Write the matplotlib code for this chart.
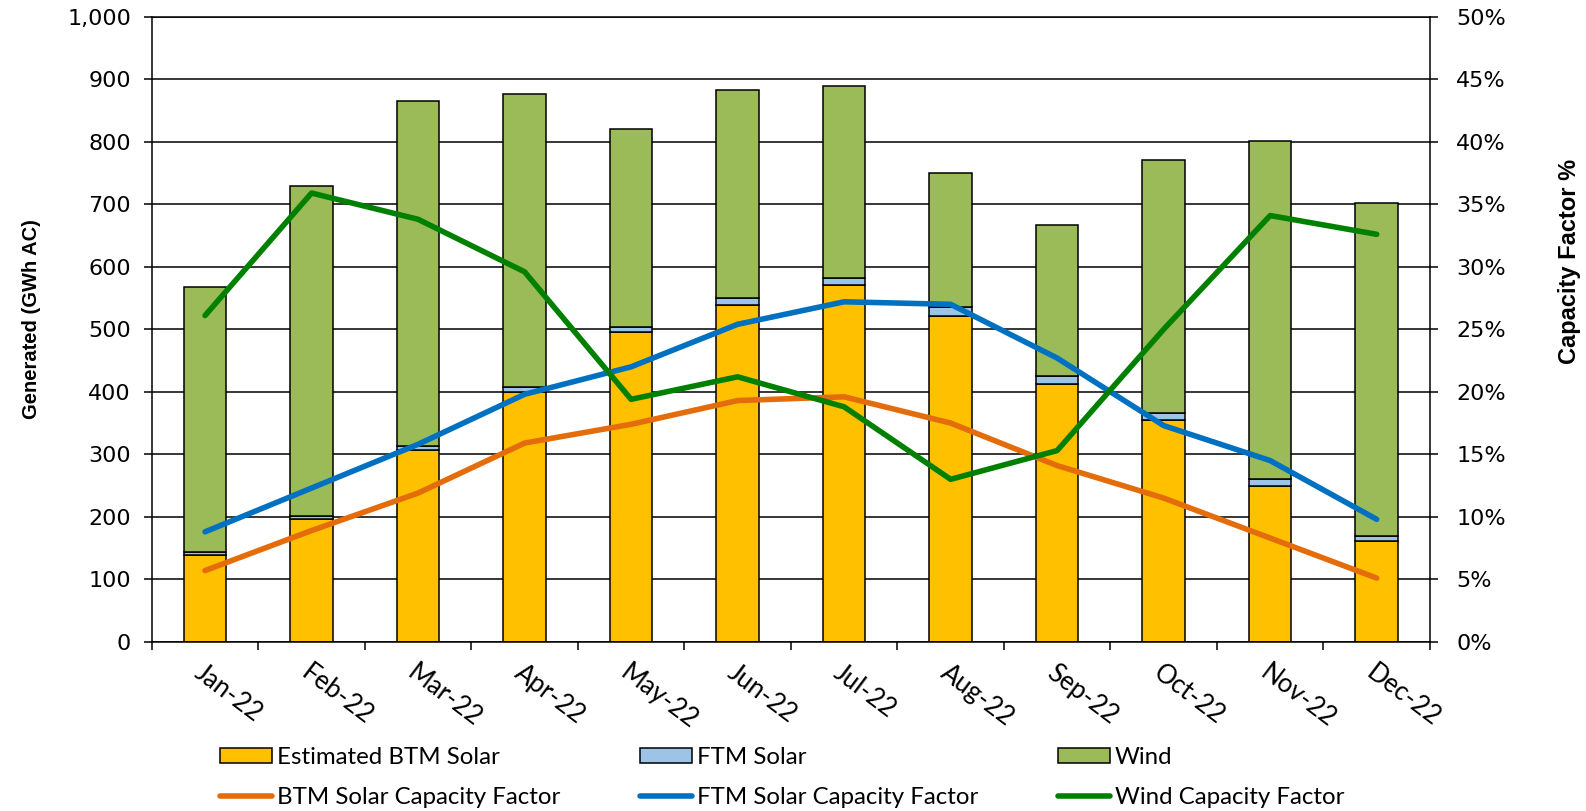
import matplotlib

matplotlib.use("Agg")
import matplotlib.pyplot as plt
from matplotlib.ticker import FixedLocator, FuncFormatter, PercentFormatter
from matplotlib.transforms import ScaledTranslation
import numpy as np

MONTHS = ["Jan-22", "Feb-22", "Mar-22", "Apr-22", "May-22", "Jun-22",
          "Jul-22", "Aug-22", "Sep-22", "Oct-22", "Nov-22", "Dec-22"]

# generation, GWh AC (stacked)
BTM_SOLAR = [139, 197, 307, 400, 495, 539, 571, 521, 412, 355, 250, 161]
FTM_SOLAR = [5, 5, 7, 8, 9, 11, 11, 15, 14, 11, 11, 9]
WIND = [424, 528, 552, 469, 316, 333, 308, 214, 241, 405, 541, 532]

# capacity factors, %
BTM_CF = [5.7, 8.9, 11.9, 15.9, 17.4, 19.3, 19.6, 17.5, 14.1, 11.5, 8.3, 5.1]
FTM_CF = [8.8, 12.3, 15.8, 19.8, 22.0, 25.4, 27.2, 27.0, 22.7, 17.3, 14.5, 9.8]
WIND_CF = [26.1, 35.9, 33.8, 29.6, 19.4, 21.2, 18.8, 13.0, 15.3, 25.0, 34.1, 32.6]

C_BTM = "#FFC000"
C_FTM = "#9DC3E6"
C_WIND = "#9BBB59"
C_BTM_CF = "#E46C0A"
C_FTM_CF = "#0070C0"
C_WIND_CF = "#008000"

TICK_FONT = ["DejaVu Sans"]
TEXT_FONT = ["Lato", "DejaVu Sans"]
LABEL_FONT = ["Liberation Sans", "DejaVu Sans"]

fig = plt.figure(figsize=(15.86, 8.11), dpi=100)
ax = fig.add_axes([0.0957, 0.2086, 0.8059, 0.7707])
ax2 = ax.twinx()

x = np.arange(len(MONTHS))
width = 0.4
edge = dict(edgecolor="black", linewidth=1.1)

btm = np.array(BTM_SOLAR)
ftm = np.array(FTM_SOLAR)
b1 = ax.bar(x, btm, width, color=C_BTM, label="Estimated BTM Solar", zorder=2, **edge)
b2 = ax.bar(x, ftm, width, bottom=btm, color=C_FTM, label="FTM Solar", zorder=2, **edge)
b3 = ax.bar(x, WIND, width, bottom=btm + ftm, color=C_WIND, label="Wind", zorder=2, **edge)

line_kw = dict(linewidth=4.0, solid_capstyle="round", solid_joinstyle="round")
l1, = ax2.plot(x, np.array(BTM_CF) / 100, color=C_BTM_CF, label="BTM Solar Capacity Factor", **line_kw)
l2, = ax2.plot(x, np.array(FTM_CF) / 100, color=C_FTM_CF, label="FTM Solar Capacity Factor", **line_kw)
l3, = ax2.plot(x, np.array(WIND_CF) / 100, color=C_WIND_CF, label="Wind Capacity Factor", **line_kw)

# left axis
ax.set_xlim(-0.5, len(MONTHS) - 0.5)
ax.set_ylim(0, 1000)
ax.set_yticks(range(0, 1001, 100))
ax.yaxis.set_major_formatter(FuncFormatter(lambda v, _: f"{int(v):,}"))
ax.grid(True, axis="y", color="black", linewidth=1.1, zorder=0)
ax.set_axisbelow(True)
ax.tick_params(axis="y", direction="out", length=6, width=1.1, pad=9, labelsize=16)
for lab in ax.get_yticklabels():
    lab.set_family(TICK_FONT)

# x axis: labels at month centres, ticks at boundaries
ax.set_xticks(x)
ax.set_xticklabels(MONTHS, rotation=-37, ha="left", va="top",
                   rotation_mode="anchor", fontsize=18.5, family=TEXT_FONT)
shift = ScaledTranslation(6 / 100, 0, fig.dpi_scale_trans)
for lab in ax.get_xticklabels():
    lab.set_transform(lab.get_transform() + shift)
ax.tick_params(axis="x", which="major", length=0, pad=13)
ax.xaxis.set_minor_locator(FixedLocator(np.arange(-0.5, len(MONTHS), 1.0)))
ax.tick_params(axis="x", which="minor", direction="out", length=6, width=1.1)

for side in ("left", "bottom", "top"):
    ax.spines[side].set_color("black")
    ax.spines[side].set_linewidth(1.1)
ax.spines["right"].set_visible(False)

# right axis
ax2.set_ylim(0, 0.5)
ax2.set_yticks(np.arange(0, 0.501, 0.05))
ax2.yaxis.set_major_formatter(PercentFormatter(1.0, decimals=0))
ax2.tick_params(axis="y", direction="out", length=6, width=1.1, pad=13, labelsize=16)
for lab in ax2.get_yticklabels():
    lab.set_family(TICK_FONT)
for side in ("left", "bottom", "top"):
    ax2.spines[side].set_visible(False)
ax2.spines["right"].set_color("black")
ax2.spines["right"].set_linewidth(1.1)

ax.set_ylabel("Generated (GWh AC)", fontsize=14.5, fontweight="bold", family=LABEL_FONT)
ax.yaxis.set_label_coords(-0.087, 0.516)
ax2.set_ylabel("Capacity Factor %", fontsize=17, fontweight="bold", family=LABEL_FONT,
               rotation=90)
ax2.yaxis.set_label_coords(1.1, 0.609)

handles = [b1, l1, b2, l2, b3, l3]
labels = [h.get_label() for h in handles]
fig.legend(handles, labels, loc="upper left", bbox_to_anchor=(0.1387, 0.079),
           ncol=3, frameon=False, prop={"family": TEXT_FONT, "size": 17.3},
           handlelength=2.18, handleheight=0.6, handletextpad=0.2,
           columnspacing=3.3, labelspacing=0.8, borderpad=0, borderaxespad=0)

fig.savefig("out.png", dpi=100)
